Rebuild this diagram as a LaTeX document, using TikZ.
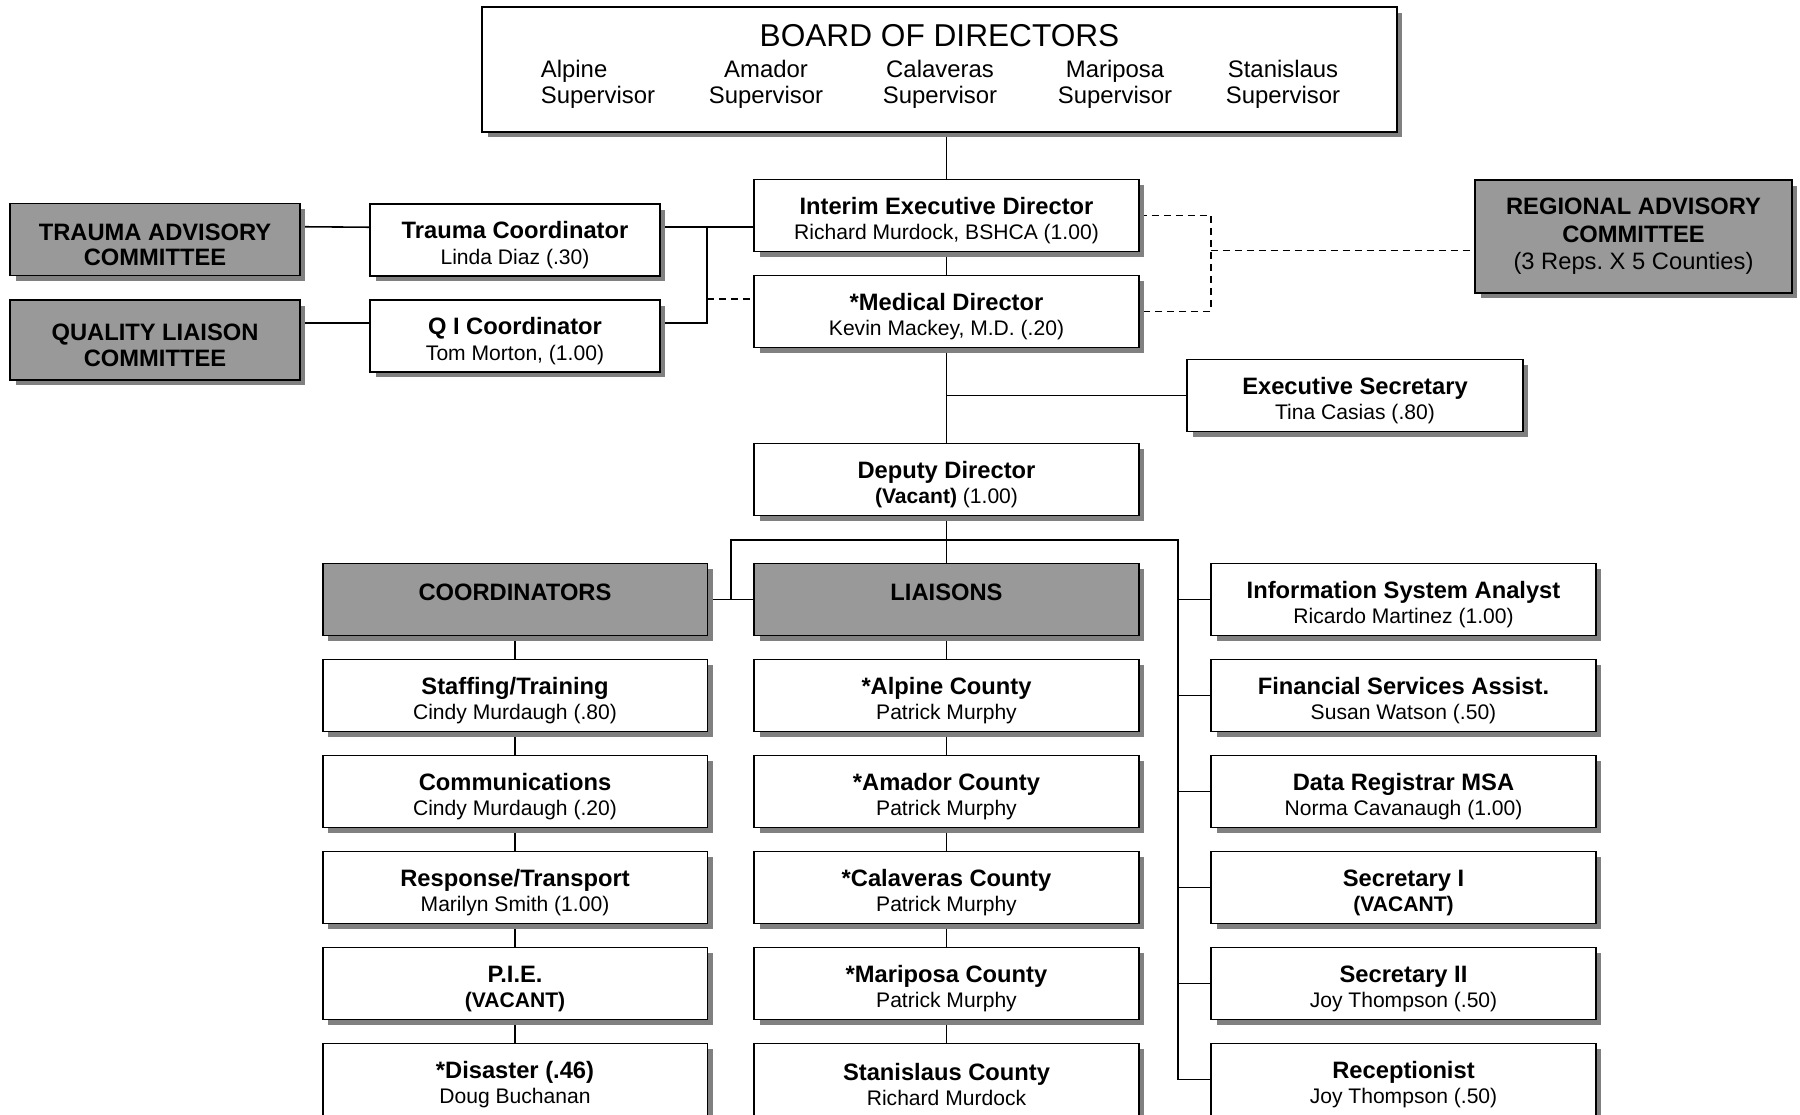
\documentclass[tikz,border=0pt]{standalone}
\usepackage{fontspec}
\setmainfont{Liberation Sans}
\usetikzlibrary{shadows,backgrounds}
\frenchspacing

\newcommand{\hdb}[1]{{\fontsize{13.5}{14.7}\selectfont\bfseries #1}}
\newcommand{\hd}[1]{{\fontsize{13.5}{14.7}\selectfont\bfseries\rule{0pt}{15.5pt}#1}}

\tikzset{
  post/.style={draw=black, line width=1.1pt, fill=white, inner sep=0pt, align=center,
    minimum height=1.44cm, font=\fontsize{12}{14.7}\selectfont,
    drop shadow={shadow xshift=0.11cm, shadow yshift=-0.11cm, fill=black!50, opacity=1}},
  wide/.style={post, minimum width=7.7cm},
  narrow/.style={post, minimum width=5.8cm},
  committee/.style={post, fill=black!40, minimum width=5.8cm},
  link/.style={line width=0.9pt},
  dotlink/.style={link, dash pattern=on 0.14cm off 0.1cm},
  super/.style={font=\fontsize{13.6}{14.7}\selectfont}
}

\begin{document}
\begin{tikzpicture}[x=0.02cm, y=-0.02cm]

\useasboundingbox (0,0) rectangle (1800,1115);

% the board
\node[post, minimum width=18.3cm, minimum height=2.5cm] (board) at (939.5,69.5) {};
\node[font=\fontsize{18}{20}\selectfont] (boardtitle) at (939.5,36) {BOARD OF DIRECTORS};
\node[super, align=left] (alpine) at (598,84.5) {Alpine\\Supervisor};
\node[super, align=center] (amador) at (766,84.5) {Amador\\Supervisor};
\node[super, align=center] (calaveras) at (940,84.5) {Calaveras\\Supervisor};
\node[super, align=center] (mariposa) at (1115,84.5) {Mariposa\\Supervisor};
\node[super, align=center] (stanislaus) at (1283,84.5) {Stanislaus\\Supervisor};

% the directors
\node[wide] (interim) at (946.5,215.5) {\hd{Interim Executive Director}\\Richard Murdock, BSHCA (1.00)};
\node[wide] (medical) at (946.5,311.5) {\hd{*Medical Director}\\Kevin Mackey, M.D. (.20)};
\node[post, minimum width=6.72cm] (execsec) at (1355,395.5) {\hd{Executive Secretary}\\Tina Casias (.80)};
\node[wide] (deputy) at (946.5,479.5) {\hd{Deputy Director}\\\textbf{(Vacant)} (1.00)};

% the left side
\node[narrow] (trauma) at (515,240) {\hd{Trauma Coordinator}\\Linda Diaz (.30)};
\node[narrow] (qi) at (515,336) {\hd{Q I Coordinator}\\Tom Morton, (1.00)};
\node[committee] (tac) at (155,239.5) {\hd{TRAUMA ADVISORY}\\\hdb{COMMITTEE}};
\node[committee, minimum height=1.6cm] (qlc) at (155,340) {\hd{QUALITY LIAISON}\\\hdb{COMMITTEE}};

% the right side
\node[committee, minimum width=6.34cm, minimum height=2.26cm, font=\fontsize{13.5}{15.6}\selectfont] (regional) at (1633.5,236.5)
  {\textbf{REGIONAL ADVISORY}\\\textbf{COMMITTEE}\\(3 Reps. X 5 Counties)};

% coordinators
\node[wide, fill=black!40] (coords) at (515,599.5) {\hd{COORDINATORS}\\~};
\node[wide] (staffing) at (515,695.5) {\hd{Staffing/Training}\\Cindy Murdaugh (.80)};
\node[wide] (comms) at (515,791.5) {\hd{Communications}\\Cindy Murdaugh (.20)};
\node[wide] (response) at (515,887.5) {\hd{Response/Transport}\\Marilyn Smith (1.00)};
\node[wide] (pie) at (515,983.5) {\hd{P.I.E.}\\\textbf{(VACANT)}};
\node[wide] (disaster) at (515,1079.5) {\hd{*Disaster (.46)}\\Doug Buchanan};

% liaisons
\node[wide, fill=black!40] (liaisons) at (946.5,599.5) {\hd{LIAISONS}\\~};
\node[wide] (alpinec) at (946.5,695.5) {\hd{*Alpine County}\\Patrick Murphy};
\node[wide] (amadorc) at (946.5,791.5) {\hd{*Amador County}\\Patrick Murphy};
\node[wide] (calaverasc) at (946.5,887.5) {\hd{*Calaveras County}\\Patrick Murphy};
\node[wide] (mariposac) at (946.5,983.5) {\hd{*Mariposa County}\\Patrick Murphy};
\node[wide] (stanislausc) at (946.5,1079.5) {\hd{Stanislaus County}\\Richard Murdock};

% staff
\node[wide] (isa) at (1403.5,599.5) {\hd{Information System Analyst}\\Ricardo Martinez (1.00)};
\node[wide] (fsa) at (1403.5,695.5) {\hd{Financial Services Assist.}\\Susan Watson (.50)};
\node[wide] (registrar) at (1403.5,791.5) {\hd{Data Registrar MSA}\\Norma Cavanaugh (1.00)};
\node[wide] (secone) at (1403.5,887.5) {\hd{Secretary I}\\\textbf{(VACANT)}};
\node[wide] (sectwo) at (1403.5,983.5) {\hd{Secretary II}\\Joy Thompson (.50)};
\node[wide] (receptionist) at (1403.5,1079.5) {\hd{Receptionist}\\Joy Thompson (.50)};

% bus points
\coordinate (lbus) at (707,0);
\coordinate (rbus) at (1211,0);
\coordinate (cbus) at (731,0);
\coordinate (sbus) at (1178,0);
\coordinate (dbus) at (0,540);

\begin{scope}[on background layer]
% top links
\draw[link] (interim.north) -- (interim.north |- board.south);
\draw[link] (interim) -- (medical);
\draw[link] (medical) -- (deputy);
\draw[link] (execsec.west) -- (execsec.west -| medical.south);
\draw[link] (deputy) -- (liaisons);
% left links
\draw[link] (tac.5) -- (trauma.175);
\draw[link] (qlc.east |- qi.5) -- (qi.5);
\draw[link] (trauma.5) -- (interim.west |- trauma.5);
\draw[link] (lbus |- trauma.5) -- (lbus |- qi.5) -- (qi.5);
\draw[dotlink] (lbus |- qi.north) -- (medical.west |- qi.north);
% regional links
\draw[dotlink] (interim.east) -- (rbus |- interim.east) -- (rbus |- medical.east) -- (medical.east);
\draw[dotlink] (rbus |- regional.-5) -- (regional.-5);
% lower bus
\draw[link] (coords.east) -- (liaisons.west);
\draw[link] (cbus |- coords.east) -- (cbus |- dbus) -- (sbus |- dbus) -- (sbus |- receptionist.west);
\draw[link] (sbus |- isa.west) -- (isa.west);
\draw[link] (sbus |- fsa.west) -- (fsa.west);
\draw[link] (sbus |- registrar.west) -- (registrar.west);
\draw[link] (sbus |- secone.west) -- (secone.west);
\draw[link] (sbus |- sectwo.west) -- (sectwo.west);
\draw[link] (sbus |- receptionist.west) -- (receptionist.west);
% columns
\draw[link] (coords) -- (staffing);
\draw[link] (staffing) -- (comms);
\draw[link] (comms) -- (response);
\draw[link] (response) -- (pie);
\draw[link] (pie) -- (disaster);
\draw[link] (liaisons) -- (alpinec);
\draw[link] (alpinec) -- (amadorc);
\draw[link] (amadorc) -- (calaverasc);
\draw[link] (calaverasc) -- (mariposac);
\draw[link] (mariposac) -- (stanislausc);
\end{scope}

\end{tikzpicture}
\end{document}
